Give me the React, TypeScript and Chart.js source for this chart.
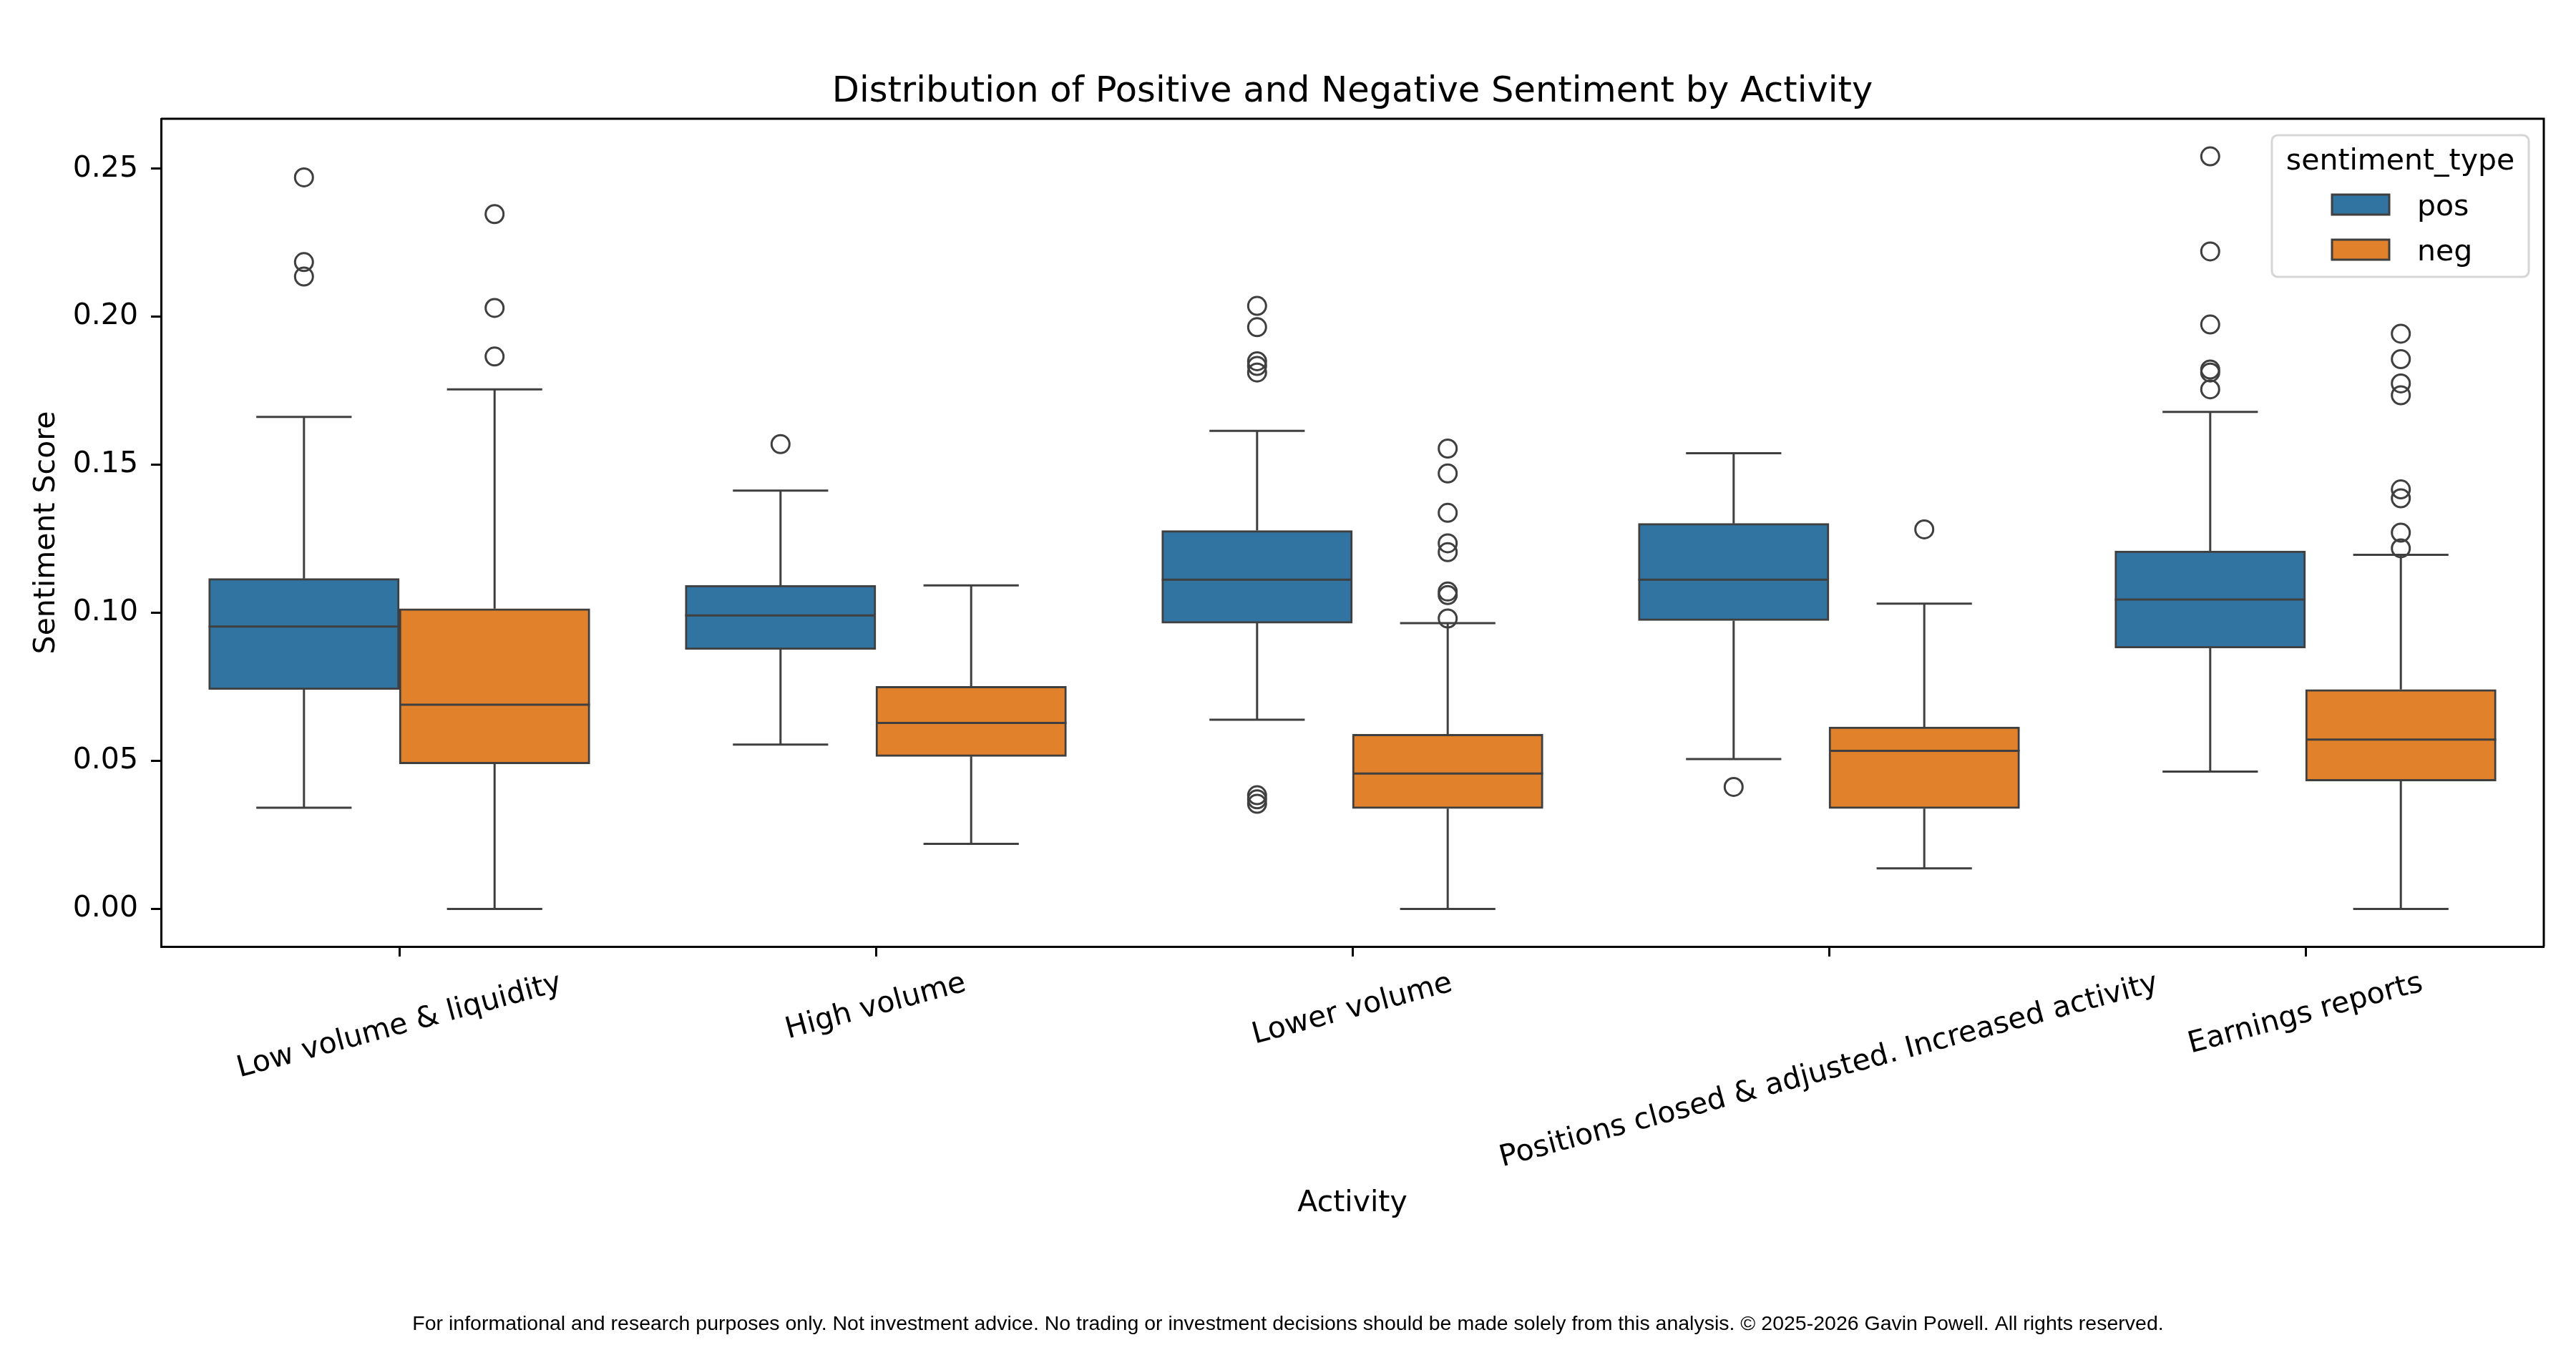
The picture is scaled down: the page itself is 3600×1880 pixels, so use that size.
import { useEffect, useRef } from 'react';
import { Chart, registerables } from 'chart.js';

Chart.register(...registerables);

const categories = [
  'Low volume & liquidity',
  'High volume',
  'Lower volume',
  'Positions closed & adjusted. Increased activity',
  'Earnings reports',
];
const hues = ['pos', 'neg'];

// positive sentiment box statistics
const posWhiskerLow = [0.0342, 0.0555, 0.0639, 0.0506, 0.0464];
const posQ1 = [0.0741, 0.0876, 0.0965, 0.0974, 0.0881];
const posMedian = [0.0954, 0.0991, 0.1112, 0.1112, 0.1045];
const posQ3 = [0.1116, 0.1093, 0.1278, 0.1302, 0.1209];
const posWhiskerHigh = [0.1662, 0.1413, 0.1615, 0.1539, 0.1679];
const posOutliers = [
  [0.2471, 0.2185, 0.2136],
  [0.157],
  [0.2037, 0.1965, 0.185, 0.1834, 0.1812, 0.0384, 0.037, 0.0355],
  [0.0412],
  [0.2542, 0.2221, 0.1974, 0.1822, 0.1812, 0.1755],
];

// negative sentiment box statistics
const negWhiskerLow = [0.0, 0.022, 0.0, 0.0137, 0.0];
const negQ1 = [0.049, 0.0515, 0.0339, 0.0339, 0.0432];
const negMedian = [0.069, 0.0628, 0.0457, 0.0534, 0.0572];
const negQ3 = [0.1014, 0.0752, 0.059, 0.0615, 0.0741];
const negWhiskerHigh = [0.1755, 0.1093, 0.0965, 0.1031, 0.1196];
const negOutliers = [
  [0.2347, 0.203, 0.1866],
  [],
  [0.1555, 0.1471, 0.1338, 0.1235, 0.1205, 0.1072, 0.106, 0.0981],
  [0.1282],
  [0.1943, 0.1857, 0.1775, 0.1735, 0.1417, 0.1387, 0.1271, 0.1218],
];

const yMin = -0.0127;
const yMax = 0.2669;
const yTickValues = [0, 0.05, 0.1, 0.15, 0.2, 0.25];

const titleText = 'Distribution of Positive and Negative Sentiment by Activity';
const footerText =
  'For informational and research purposes only. Not investment advice. No trading or investment decisions should be made solely from this analysis. \u00a9 2025-2026 Gavin Powell. All rights reserved.';

const POS_COLOR = '#3274a1';
const NEG_COLOR = '#e1812c';
const LINE_COLOR = '#3f3f3f';
const FONT = "'DejaVu Sans', sans-serif";
const TEXT_SIZE = 41;

const HALF_BOX = 0.2;
const HALF_CAP = 0.1;

type Pt = { x: number; y: number | null };

function boxData(q1: number[], q3: number[], off: number) {
  return categories.map((_, i) => ({ x: i + off, y: [q1[i], q3[i]] }));
}

function whiskerPoints(q1: number[], q3: number[], lo: number[], hi: number[], off: number) {
  const pts: Pt[] = [];
  categories.forEach((_, i) => {
    const x = i + off;
    pts.push({ x, y: q3[i] }, { x, y: hi[i] }, { x, y: null });
    pts.push({ x, y: q1[i] }, { x, y: lo[i] }, { x, y: null });
    pts.push({ x: x - HALF_CAP, y: hi[i] }, { x: x + HALF_CAP, y: hi[i] }, { x, y: null });
    pts.push({ x: x - HALF_CAP, y: lo[i] }, { x: x + HALF_CAP, y: lo[i] }, { x, y: null });
  });
  return pts;
}

function medianPoints(med: number[], off: number) {
  const pts: Pt[] = [];
  med.forEach((m, i) => {
    const x = i + off;
    pts.push({ x: x - HALF_BOX, y: m }, { x: x + HALF_BOX, y: m }, { x, y: null });
  });
  return pts;
}

function outlierPoints(out: number[][], off: number) {
  return out.flatMap((vals, i) => vals.map((v) => ({ x: i + off, y: v })));
}

const decorPlugin = {
  id: 'decor',
  afterDraw(chart: any) {
    const { ctx, chartArea: ca } = chart;
    const xScale = chart.scales.x;
    ctx.save();

    // top and right spines
    ctx.strokeStyle = '#000';
    ctx.lineWidth = 3;
    ctx.beginPath();
    ctx.moveTo(ca.left, ca.top);
    ctx.lineTo(ca.right, ca.top);
    ctx.lineTo(ca.right, ca.bottom);
    ctx.stroke();

    // title, centred over the axes
    ctx.fillStyle = '#000';
    ctx.font = `49.5px ${FONT}`;
    ctx.textAlign = 'center';
    ctx.textBaseline = 'middle';
    ctx.fillText(titleText, (ca.left + ca.right) / 2, 129);

    // category labels, rotated 15 degrees and centred on their ticks
    ctx.font = `${TEXT_SIZE}px ${FONT}`;
    const angle = (15 * Math.PI) / 180;
    const top = ca.bottom + 28;
    categories.forEach((label, i) => {
      const w = ctx.measureText(label).width;
      const h = TEXT_SIZE * 1.165;
      const H = w * Math.sin(angle) + h * Math.cos(angle);
      ctx.save();
      ctx.translate(xScale.getPixelForTick(i), top + H / 2);
      ctx.rotate(-angle);
      ctx.fillText(label, 0, 0);
      ctx.restore();
    });

    // legend
    const lx = ca.right - 380;
    const ly = ca.top + 23;
    const lw = 359;
    const lh = 198;
    ctx.beginPath();
    ctx.roundRect(lx, ly, lw, lh, 8);
    ctx.fillStyle = 'rgba(255,255,255,0.8)';
    ctx.fill();
    ctx.strokeStyle = '#d6d6d6';
    ctx.lineWidth = 3;
    ctx.stroke();

    ctx.fillStyle = '#000';
    ctx.textBaseline = 'alphabetic';
    ctx.textAlign = 'center';
    ctx.fillText('sentiment_type', lx + lw / 2, ca.top + 71);

    const colors = [POS_COLOR, NEG_COLOR];
    hues.forEach((name, k) => {
      const py = ca.top + 106 + k * 63;
      ctx.fillStyle = colors[k];
      ctx.fillRect(ca.right - 296, py, 80, 28);
      ctx.strokeStyle = LINE_COLOR;
      ctx.lineWidth = 3;
      ctx.strokeRect(ca.right - 296, py, 80, 28);
      ctx.fillStyle = '#000';
      ctx.textAlign = 'left';
      ctx.fillText(name, ca.right - 177, py + 29);
    });

    // footer note
    ctx.font = "28.5px 'Liberation Sans', Arial, sans-serif";
    ctx.textAlign = 'center';
    ctx.textBaseline = 'middle';
    ctx.fillText(footerText, chart.width / 2, 1851);

    ctx.restore();
  },
};

export default function App() {
  const canvasRef = useRef<HTMLCanvasElement>(null);

  useEffect(() => {
    if (!canvasRef.current) return;

    const boxCommon = {
      type: 'bar',
      xAxisID: 'xl',
      borderColor: LINE_COLOR,
      borderWidth: 3,
      borderSkipped: false,
      grouped: false,
      categoryPercentage: 1,
      barPercentage: 1,
      order: 2,
    };
    const lineCommon = {
      type: 'line',
      xAxisID: 'xl',
      borderColor: LINE_COLOR,
      borderWidth: 3,
      pointRadius: 0,
      spanGaps: false,
      fill: false,
    };
    const flierCommon = {
      type: 'scatter',
      xAxisID: 'xl',
      pointRadius: 12.5,
      pointBorderWidth: 3,
      pointBorderColor: LINE_COLOR,
      pointBackgroundColor: 'rgba(0,0,0,0)',
      order: 0,
    };

    const chart = new Chart(canvasRef.current, {
      type: 'bar',
      data: {
        labels: categories,
        datasets: [
          { ...boxCommon, label: hues[0], data: boxData(posQ1, posQ3, -HALF_BOX), backgroundColor: POS_COLOR },
          { ...boxCommon, label: hues[1], data: boxData(negQ1, negQ3, HALF_BOX), backgroundColor: NEG_COLOR },
          { ...lineCommon, label: 'pos whiskers', data: whiskerPoints(posQ1, posQ3, posWhiskerLow, posWhiskerHigh, -HALF_BOX), order: 3 },
          { ...lineCommon, label: 'neg whiskers', data: whiskerPoints(negQ1, negQ3, negWhiskerLow, negWhiskerHigh, HALF_BOX), order: 3 },
          { ...lineCommon, label: 'pos median', data: medianPoints(posMedian, -HALF_BOX), order: 1 },
          { ...lineCommon, label: 'neg median', data: medianPoints(negMedian, HALF_BOX), order: 1 },
          { ...flierCommon, label: 'pos outliers', data: outlierPoints(posOutliers, -HALF_BOX) },
          { ...flierCommon, label: 'neg outliers', data: outlierPoints(negOutliers, HALF_BOX) },
        ] as any,
      },
      options: {
        animation: false,
        responsive: true,
        maintainAspectRatio: false,
        events: [],
        layout: { padding: { top: 166, right: 45, bottom: 0, left: 0 } },
        plugins: {
          legend: { display: false },
          tooltip: { enabled: false },
          title: { display: false },
        },
        scales: {
          x: {
            type: 'category',
            offset: true,
            grid: {
              display: true,
              drawOnChartArea: false,
              drawTicks: true,
              tickLength: 14,
              tickWidth: 3,
              tickColor: '#000',
              offset: false,
            },
            border: { display: true, color: '#000', width: 3 },
            ticks: { display: false },
            title: {
              display: true,
              text: 'Activity',
              color: '#000',
              font: { family: FONT, size: TEXT_SIZE },
              padding: { top: 0, bottom: 173 },
            },
            afterFit: (s: any) => {
              s.height = 557;
            },
          },
          xl: {
            type: 'linear',
            axis: 'x',
            display: false,
            offset: false,
            min: -0.5,
            max: 4.5,
            grid: { offset: false },
            ticks: { stepSize: 1 },
          },
          y: {
            type: 'linear',
            min: yMin,
            max: yMax,
            afterBuildTicks: (s: any) => {
              s.ticks = yTickValues.map((v) => ({ value: v }));
            },
            ticks: {
              color: '#000',
              font: { family: FONT, size: TEXT_SIZE },
              padding: 18,
              callback: (v: any) => Number(v).toFixed(2),
            },
            grid: {
              drawOnChartArea: false,
              tickLength: 14,
              tickWidth: 3,
              tickColor: '#000',
            },
            border: { display: true, color: '#000', width: 3 },
            title: {
              display: true,
              text: 'Sentiment Score',
              color: '#000',
              font: { family: FONT, size: TEXT_SIZE },
              padding: { top: 41, bottom: 0 },
            },
            afterFit: (s: any) => {
              s.width = 225;
            },
          },
        },
      } as any,
      plugins: [decorPlugin],
    });

    return () => {
      chart.destroy();
    };
  }, []);

  return (
    <div style={{ position: 'fixed', left: 0, top: 0, width: 3600, height: 1880, background: '#fff' }}>
      <canvas ref={canvasRef}></canvas>
    </div>
  );
}
